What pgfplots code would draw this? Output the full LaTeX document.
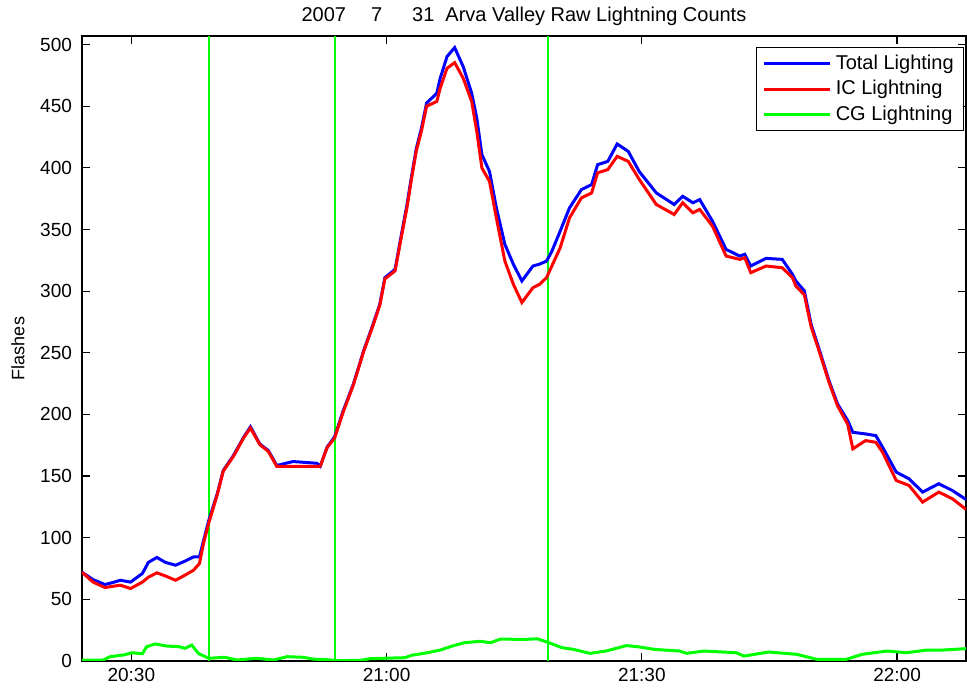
\documentclass[border=0pt]{standalone}
\usepackage{fontspec}
\setmainfont{Liberation Sans}
\usepackage{pgfplots}
\pgfplotsset{compat=1.18}
\definecolor{mblue}{RGB}{0,0,255}
\definecolor{mred}{RGB}{255,0,0}
\definecolor{mgreen}{RGB}{0,255,0}
\pgfplotstableread{
t v
24.2 72
25.5 66
26.9 62
28.0 64
28.7 65.5
29.9 64
31.3 71
32.0 80
33.0 84
34.0 80
35.2 77.7
36.3 81
37.3 84.4
38.0 84.4
38.5 98
39.1 114
40.1 135.7
40.8 154.5
42.0 166.7
43.2 181.5
44.0 190
45.1 176
46.1 170.7
47.1 158.6
49.0 161.8
51.8 160.4
52.2 158
53.0 173.4
53.9 182
54.9 203
56.1 224.7
57.3 251.6
58.4 273
59.2 289.4
59.8 311
61.0 317.7
61.6 340.6
62.4 370.3
62.9 391.8
63.5 416
64.1 432.3
64.7 452.5
65.9 460.6
66.3 472.7
67.1 490.3
68.0 497.6
69.0 482.2
70.0 460.6
70.6 440.4
71.2 410.8
72.1 397
72.9 367.6
73.9 338
74.9 321.8
75.9 308.3
77.2 320.4
78.0 322
78.8 324.4
79.4 332
80.4 348.7
81.5 367.6
82.9 382.4
84.1 386.5
84.8 402.6
86.0 405.3
87.1 419.4
88.4 413.4
89.7 397
91.7 379.7
93.8 370.3
94.8 377
96.0 371.7
96.8 374.3
98.3 356.8
99.9 333.9
101.5 328.5
102.1 329.9
102.8 320.4
104.6 326.6
106.5 325.8
107.7 313.7
108.1 308.3
109.1 300.2
109.9 273
110.9 251.6
112.0 227.3
113.0 208.5
114.2 195
114.8 185.5
116.3 184.2
117.5 182.8
118.3 173.4
119.9 153.2
121.4 147.8
123.0 137
124.9 143.8
126.5 138.3
128.1 131
}\totaldata
\pgfplotstableread{
t v
24.2 72
25.5 64
26.9 59.6
28.7 61.5
29.9 58.8
31.3 64
32.0 68
33.0 71.5
34.0 69
35.2 65.5
36.3 69.6
37.3 73.6
38.0 79
38.5 96
39.1 112
40.1 135
40.8 154
42.0 166
43.2 181
44.0 189
45.1 175.5
46.1 170
47.1 157.8
48.0 157.8
51.8 157.8
52.2 158
53.0 173
53.9 181
54.9 202
56.1 224
57.3 251
58.4 272
59.2 288.5
59.8 310
61.0 316.5
61.6 339
62.4 368
62.9 390
63.5 414
64.1 430
64.7 450
65.9 453.9
66.3 464.7
67.1 480.8
68.0 485.4
69.0 472.8
70.0 453.9
70.6 429.6
71.2 400
72.1 389
72.9 359.5
73.9 324.4
74.9 305.6
75.9 290.8
77.2 302.8
78.0 305.6
78.8 311
80.4 335.2
81.5 359.5
82.9 375.7
84.1 379.7
84.8 396
86.0 398.6
87.1 409.4
88.4 405.3
89.7 390.6
91.7 370.3
93.8 362.2
94.8 371.7
96.0 363.6
96.8 366.3
98.3 352.8
99.9 328.5
101.5 325.8
102.1 327.1
102.8 315
104.6 320.4
106.5 319
107.7 311
108.1 304.2
109.1 297
109.9 271
110.9 250
112.0 226
113.0 207
114.2 192
114.8 172.1
116.3 178.8
117.5 177.4
118.3 169.3
119.9 146.4
121.4 142.4
123.0 128.9
124.9 137
126.5 131.6
128.1 123
}\icdata
\pgfplotstableread{
t v
24.2 0.8
26.7 0.8
27.5 3.5
29.1 4.9
30.1 6.7
31.3 5.9
31.8 11.6
32.8 13.8
34.2 12.1
35.6 11.6
36.3 10.3
37.1 12.9
37.9 6
39.1 2.2
41.0 3
42.4 0.8
44.7 2.2
46.7 0.8
48.3 3.5
50.2 3
51.4 1.5
53.1 1
54.1 0.3
56.9 0.5
58.1 1.9
62.2 2.7
62.9 4.6
64.8 6.7
66.3 8.9
67.7 12.1
69.1 14.8
71.0 16
72.2 14.8
73.4 17.8
75.0 17.6
76.2 17.5
77.7 18
79.1 14.8
80.6 10.8
82.0 9.4
83.9 6.2
85.8 8.1
88.2 12.5
89.6 11.5
91.5 9.4
94.4 8.1
95.3 6.2
97.3 8.1
101.1 6.7
102.0 4
104.9 7.3
108.2 5.4
110.6 1.3
114.0 1.3
115.9 5.4
118.8 8.1
121.1 6.7
123.5 8.9
125.4 8.9
128.1 10
}\cgdata
\begin{document}
\begin{tikzpicture}
\begin{axis}[
  scale only axis, width=442pt, height=312.5pt,
  xmin=24.2, xmax=128.1, ymin=0, ymax=507,
  xtick={30,60,90,120}, xticklabels={20:30,21:00,21:30,22:00},
  ytick={0,50,...,500},
  tick align=inside, xtick pos=both, ytick pos=both,
  major tick length=4pt,
  tick style={black, line width=0.6pt},
  axis line style={black, line width=0.8pt},
  ticklabel style={font=\fontsize{9.5}{11}\selectfont},
  /pgf/number format/assume math mode=true,
  yticklabel style={xshift=-1.5pt},
  ylabel={Flashes},
  ylabel style={font=\fontsize{9}{10}\selectfont, at={(axis description cs:-0.0724,0.5)}, anchor=center},
  title={2007\hspace{12.5pt}7\hspace{15pt}31\hspace{5.5pt}Arva Valley Raw Lightning Counts},
  title style={at={(0.5,1)}, anchor=base, yshift=1pt, font=\fontsize{10}{12}\selectfont},
  legend style={at={(0.998,0.982)}, anchor=north east, draw=black, line width=0.6pt,
    font=\fontsize{10}{12}\selectfont, row sep=0pt, inner xsep=3pt, inner ysep=1.5pt},
  legend cell align=left,
  legend image code/.code={\draw[#1, line width=1.5pt] (0pt,0pt) -- (33pt,0pt);},
]
\addplot[mgreen, line width=1pt, forget plot] coordinates {(39.1,0) (39.1,507)};
\addplot[mgreen, line width=1pt, forget plot] coordinates {(53.9,0) (53.9,507)};
\addplot[mgreen, line width=1pt, forget plot] coordinates {(79.0,0) (79.0,507)};
\addplot[mblue, line width=1.5pt] table[x=t, y=v] {\totaldata};
\addplot[mred, line width=1.5pt] table[x=t, y=v] {\icdata};
\addplot[mgreen, line width=1.5pt] table[x=t, y=v] {\cgdata};
\legend{Total Lighting, IC Lightning, CG Lightning}
\coordinate (sw) at (rel axis cs:0,0);
\coordinate (ne) at (rel axis cs:1,1);
\end{axis}
\pgfresetboundingbox
\path ([xshift=-41pt, yshift=-14pt]sw) rectangle ([xshift=0.5pt, yshift=18pt]ne);
\end{tikzpicture}
\end{document}
